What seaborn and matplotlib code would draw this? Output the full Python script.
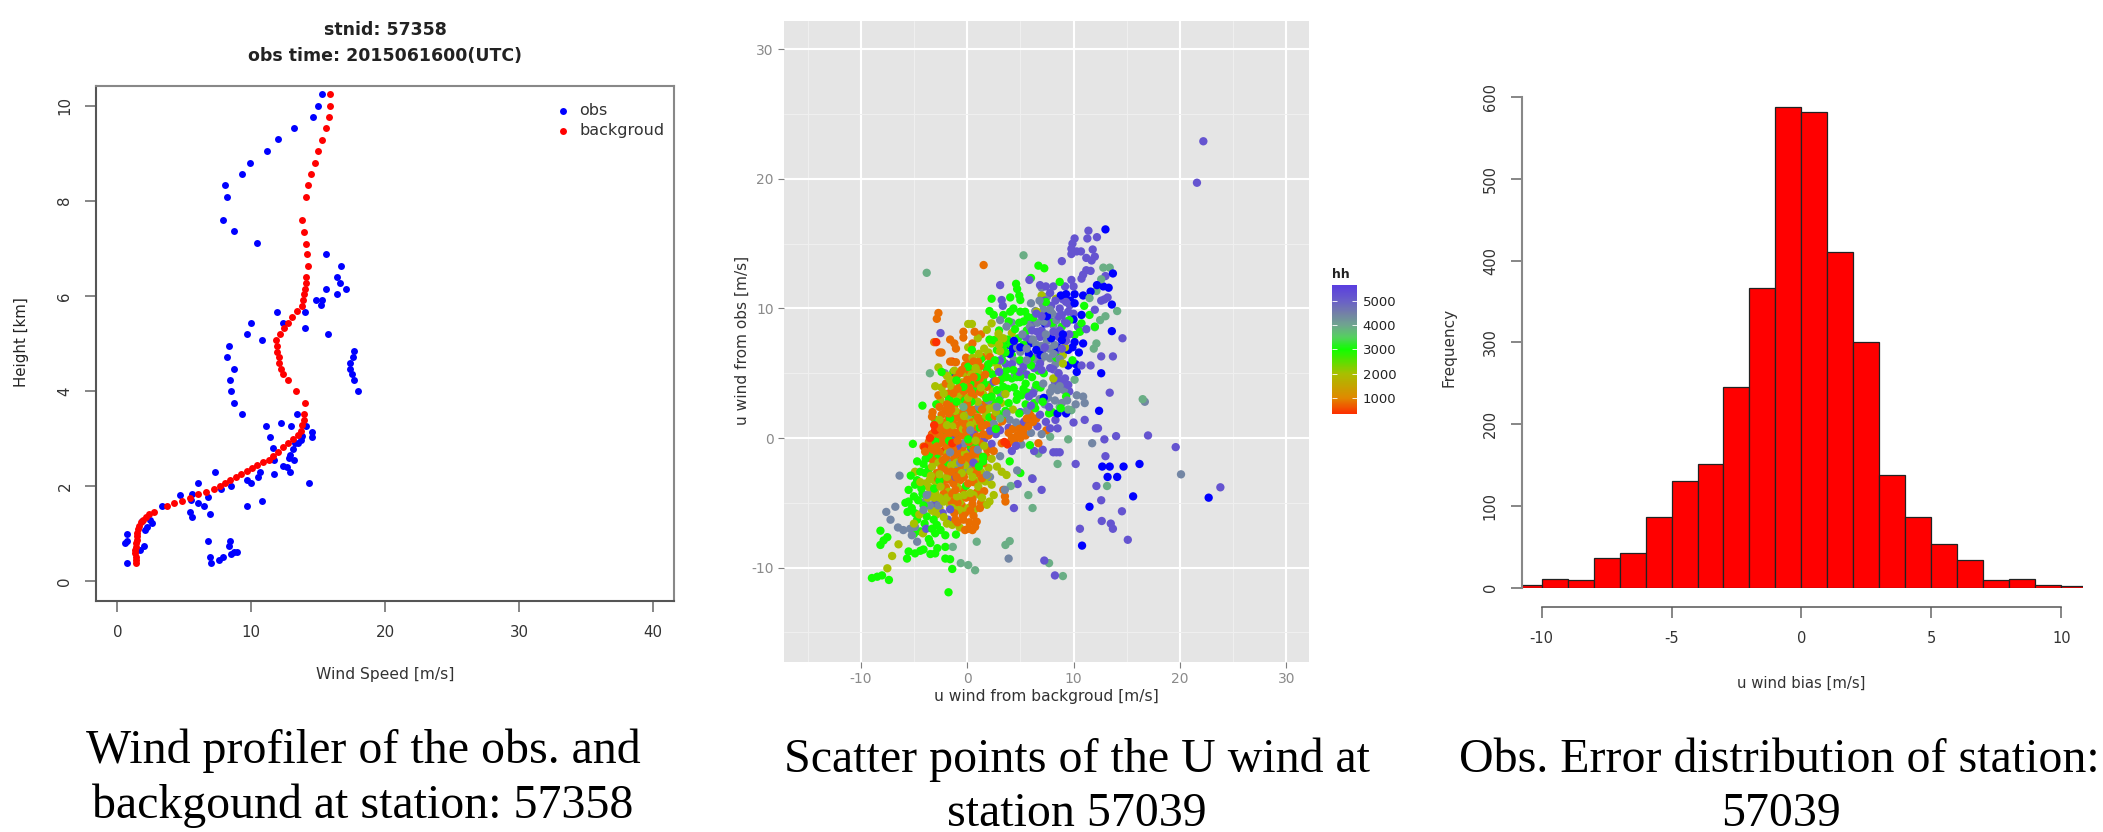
import numpy as np
import pandas as pd
from matplotlib import pyplot as plt
from matplotlib.colors import LinearSegmentedColormap, Normalize
import seaborn as sns

W, H = 2103, 832

# ---- wind profile (station 57358)
obs_speed = [15.3, 15.0, 14.6, 13.2, 12.0, 11.2, 9.9, 9.3, 8.0, 8.2, 7.9, 8.7, 10.4, 15.6, 16.7, 16.4, 16.6, 17.1,
             15.6, 16.4, 14.8, 15.3, 15.2, 11.9, 14.0, 12.4, 10.0, 14.0, 9.7, 15.7, 10.8, 8.3, 17.7, 8.2, 17.6, 17.4,
             8.7, 17.4, 17.5, 8.4, 17.7, 8.5, 18.0, 8.7, 9.3, 13.4, 11.1, 12.2, 13.0, 14.1, 14.5, 14.5, 11.4, 13.8,
             13.7, 13.5, 13.3, 13.1, 12.9, 12.8, 13.2, 11.6, 11.7, 12.4, 12.7, 12.9, 7.3, 11.7, 10.65, 10.5, 9.7, 10.0,
             14.3, 6.05, 8.5, 7.7, 4.7, 5.6, 6.8, 5.5, 6.05, 6.45, 9.7, 10.8, 3.3, 5.4, 6.9, 5.6, 2.6, 2.4, 2.2, 2.05,
             1.8, 0.7, 0.7, 0.6, 6.8, 8.4, 8.3, 1.95, 1.7, 8.9, 8.7, 8.5, 7.85, 7.6, 6.9, 7.0, 0.7]
obs_height = [10.25, 10.0, 9.75, 9.52, 9.29, 9.04, 8.8, 8.56, 8.32, 8.07, 7.6, 7.36, 7.11, 6.88, 6.63, 6.4, 6.28, 6.15,
              6.15, 6.03, 5.91, 5.91, 5.8, 5.67, 5.67, 5.44, 5.44, 5.32, 5.2, 5.2, 5.07, 4.95, 4.84, 4.72, 4.72, 4.6,
              4.47, 4.47, 4.35, 4.24, 4.24, 4.0, 4.0, 3.75, 3.51, 3.51, 3.27, 3.33, 3.27, 3.27, 3.15, 3.03, 3.03, 3.05,
              2.97, 2.92, 2.9, 2.78, 2.66, 2.59, 2.55, 2.8, 2.55, 2.43, 2.4, 2.31, 2.31, 2.25, 2.31, 2.19, 2.14, 2.07,
              2.07, 2.07, 2.0, 1.94, 1.82, 1.83, 1.77, 1.71, 1.64, 1.58, 1.59, 1.7, 1.59, 1.46, 1.41, 1.35, 1.22, 1.3,
              1.15, 1.09, 1.28, 0.99, 0.85, 0.8, 0.86, 0.86, 0.74, 0.74, 0.67, 0.62, 0.61, 0.57, 0.51, 0.45, 0.51, 0.38, 0.385]
bg_speed = [15.9, 15.85, 15.8, 15.55, 15.3, 15.0, 14.75, 14.45, 14.25, 14.1, 13.8, 13.9, 14.05, 14.15, 14.25, 14.1, 14.05,
            14.0, 13.9, 13.85, 13.75, 13.4, 13.05, 12.75, 12.45, 12.15, 11.85, 11.9, 11.95, 12.05, 12.1, 12.2, 12.35, 12.75,
            13.35, 14.0, 13.95, 13.9, 13.8, 13.7, 13.5, 13.1, 12.76, 12.4, 12.0, 11.6, 11.3, 10.9, 10.45, 10.05, 9.65, 9.2,
            8.83, 8.43, 8.03, 7.66, 7.2, 6.6, 6.0, 5.4, 4.8, 4.25, 3.68, 2.7, 2.39, 2.14, 1.94, 1.77, 1.64, 1.54, 1.49, 1.47,
            1.44, 1.42, 1.37, 1.34, 1.34, 1.37, 1.39, 1.39]
bg_height = [10.25, 10.0, 9.76, 9.52, 9.28, 9.05, 8.8, 8.57, 8.33, 8.08, 7.6, 7.35, 7.1, 6.87, 6.63, 6.39, 6.27, 6.15, 6.03,
             5.91, 5.79, 5.68, 5.56, 5.44, 5.32, 5.2, 5.08, 4.95, 4.83, 4.71, 4.6, 4.47, 4.35, 4.24, 4.0, 3.75, 3.52, 3.4, 3.29,
             3.17, 3.08, 2.99, 2.92, 2.82, 2.73, 2.64, 2.56, 2.5, 2.44, 2.38, 2.32, 2.26, 2.19, 2.13, 2.06, 2.0, 1.94, 1.885,
             1.83, 1.76, 1.70, 1.65, 1.58, 1.46, 1.415, 1.36, 1.30, 1.24, 1.17, 1.10, 1.02, 0.95, 0.88, 0.80, 0.73, 0.66, 0.59,
             0.52, 0.45, 0.38]

# ---- u wind scatter (station 57039), (background, obs) per hh level
hh_red = [(3.7, -0.4), (3.5, -0.3), (3.8, -0.5), (-3.5, 0.0), (-3.3, 0.3), (-2.5, -0.2), (-1.4, -0.4), (0.4, -0.2),
          (-3.1, 1.0), (-2.9, 7.4), (-1.4, 5.9), (-3.0, 0.6), (-4.0, -0.7), (-2.2, -1.0)]
hh_orange = [(1.55, 13.35), (-2.7, 9.65), (-2.85, 9.2), (-3.1, 7.4), (-2.6, 6.6), (-2.4, 6.6), (-1.6, 7.6), (-1.2, 7.3),
             (-1.05, 6.9), (-0.35, 8.2), (-0.35, 7.75), (0.7, 8.2), (1.3, 8.0), (0.5, 7.3), (-1.6, 5.9), (-1.05, 5.85),
             (-0.2, 5.6), (0.1, 5.7), (-0.5, 5.25), (-1.75, 3.2), (-1.45, 2.8), (-2.05, 2.15), (-1.75, 1.5), (-3.25, 2.0),
             (-3.3, 1.65), (-3.0, 0.6), (-3.3, 0.25), (-4.1, -0.65), (-3.95, -1.05), (-2.85, -0.65), (-2.4, 0.1), (-1.9, 0.6),
             (-1.3, 1.1), (-0.65, 1.9), (0.0, 2.65), (0.6, 3.2), (1.2, 3.55), (1.85, 3.95), (1.5, 6.25), (2.15, 6.25), (1.2, 5.5),
             (0.6, 4.7), (0.0, 4.5), (-0.65, 4.2), (-1.3, 3.45), (-2.5, -0.4), (-1.9, -0.65), (-1.3, -0.9), (-0.65, -1.2),
             (0.0, -1.45), (0.6, -0.9), (1.2, -0.4), (0.9, 0.1), (0.1, 0.35), (-0.65, 0.5), (-1.3, -0.4), (-1.9, 0.1), (-2.5, 0.75),
             (3.25, -0.4), (4.2, 0.0), (5.0, 0.0), (5.3, 0.5), (5.75, 0.9), (6.2, 1.25), (5.9, 2.15), (6.7, -0.4), (7.45, 0.6),
             (6.5, 1.5), (4.7, 0.2), (4.4, -0.3), (3.9, 0.4), (-2.85, -2.7), (-2.2, -3.25), (-1.9, -2.5), (-0.95, -2.5), (0.0, -2.5),
             (0.9, -2.7), (-0.65, -3.25), (0.1, -3.5), (-1.3, -3.5), (0.75, -2.2), (1.5, -1.95), (3.4, -4.0), (3.6, -4.9),
             (3.55, -4.5), (-0.35, -6.3), (0.1, -7.0), (0.75, -6.85), (-0.2, -5.8), (-1.1, -6.3), (0.9, -6.45), (1.2, -5.4),
             (-2.7, 3.3), (-2.0, 4.2), (-1.1, 4.6), (-0.3, 3.6), (0.4, 2.0), (1.0, 1.6), (1.6, 2.6), (2.2, 3.2), (2.7, 4.4), (-0.9, 2.9),
             (-1.5, 2.2), (-2.3, 1.2), (-1.1, 0.4), (-0.2, 1.1), (0.6, 0.8), (1.4, 0.9), (2.0, 0.2), (-2.9, -1.3), (-2.3, -1.7),
             (-1.6, -1.8), (-0.9, -0.2), (-0.4, -0.7), (0.3, -1.7), (1.0, -1.2), (1.9, -0.9), (-1.7, 1.9), (-1.0, 1.6), (-0.3, 2.2),
             (-2.6, 2.4), (0.2, 3.9), (0.9, 4.2), (1.7, 4.9), (-3.1, -1.8), (-2.4, -2.3), (-1.4, -3.0), (-0.4, -4.0), (0.5, -4.7),
             (-0.9, -5.0), (0.3, -5.6), (-1.4, -4.3), (-2.0, -3.8), (-3.3, -0.8), (2.6, 1.7), (2.9, 0.8), (3.3, 1.3)]
hh_orange_core = [(-3.6, -0.3), (-3.2, -0.9), (-2.7, 0.3), (-2.1, -0.2), (-1.6, 0.4), (-1.0, -0.1), (-0.4, 0.2), (0.2, -0.3), (0.7, 0.5), (1.5, 0.3),
                  (-3.4, -1.6), (-2.6, -1.1), (-2.0, -1.5), (-1.2, -1.4), (-0.5, -1.7), (0.5, -1.3), (-2.9, 0.9), (-2.2, 0.7), (-1.5, 1.3), (-0.8, 1.0),
                  (-0.1, 0.6), (0.5, 1.2), (1.2, 1.3), (1.8, 1.0), (-2.4, 1.8), (-1.9, 2.6), (-1.2, 2.5), (-0.5, 1.5), (0.2, 2.3), (0.8, 2.2), (1.4, 2.2),
                  (-2.0, 3.4), (-1.5, 3.6), (-0.9, 3.8), (-0.2, 3.0), (0.4, 3.5), (1.2, 4.6), (0.2, 5.2), (-0.7, 5.0), (1.0, 5.9), (-0.1, 6.2), (0.6, 5.9),
                  (1.9, 5.6), (-1.5, -2.6), (-0.7, -2.2), (0.2, -2.0), (1.0, -2.1), (1.8, -1.4), (2.5, -1.0), (-2.8, -3.1), (-1.8, -3.2), (-1.0, -3.0),
                  (-0.3, -3.0), (0.6, -3.4), (1.4, -3.1), (-2.2, -4.3), (-1.1, -4.0), (-0.1, -4.6), (0.9, -4.2), (1.6, -4.1), (-1.5, -4.9), (-0.5, -5.2),
                  (0.5, -5.1), (1.3, -5.0), (-1.2, -5.8), (-0.4, -6.0), (0.6, -6.0), (-0.9, -6.5), (0.2, -6.5), (0.5, -7.1), (-0.2, -7.1), (5.2, 0.9),
                  (4.9, 0.7), (5.5, 0.2), (6.0, 1.7), (5.6, 1.5), (4.3, 0.7)]
hh_olive = [(-6.45, -8.2), (-7.05, -9.1), (-7.5, -10.05), (-4.15, -7.35), (7.0, 11.0), (8.35, 10.75), (6.55, 9.75), (9.0, 6.4),
            (9.0, 5.75), (0.45, 8.8), (0.1, 8.8), (2.3, 8.85), (1.85, 8.35), (2.95, 8.05), (-2.7, 5.45), (-3.0, 4.0), (-2.2, 3.45),
            (2.45, 5.85), (-0.65, -4.9), (-0.95, -4.5), (-1.75, -4.15), (-2.5, -3.75), (-3.0, -3.35), (0.1, -5.4), (-0.8, -5.55),
            (1.85, -5.15), (0.3, -4.25), (1.05, -3.75), (1.7, -3.35), (2.3, -3.6), (2.8, -2.2), (3.25, -2.6), (3.7, -2.85),
            (-1.6, -5.2), (-2.2, -4.9), (-3.1, -4.6), (-3.6, -3.8), (-2.9, -5.9), (-1.9, -6.6), (-0.7, -6.9), (-4.5, -5.9), (-4.0, -5.0),
            (-3.4, -2.9), (-2.7, -1.9), (-1.9, -1.2), (-1.0, -1.9), (-0.2, -1.2), (0.5, -3.0), (1.3, -2.6), (2.0, -2.3), (-1.5, -2.1),
            (-0.9, -3.8), (-2.4, 3.9), (-1.5, 4.0), (-0.8, 3.3), (0.1, 3.1), (1.0, 2.8), (1.8, 1.9), (2.6, 2.4), (-0.4, 0.7), (0.8, 5.4),
            (1.6, 6.9), (2.3, 7.3), (3.1, 6.7), (0.5, 6.2), (-0.3, 5.0), (-1.2, 5.2), (-1.9, 4.8), (-2.6, 1.4), (-1.4, 0.9), (0.2, 1.4),
            (3.6, 3.4), (4.3, 2.2), (3.0, 3.6), (1.5, 3.4), (2.2, 1.1), (0.8, -0.2), (-0.2, -2.1), (1.2, -4.4), (2.5, -4.4), (0.9, -1.6),
            (-5.0, -6.6), (-4.4, -3.4), (-4.9, -2.6), (8.1, 4.6), (9.2, 7.0), (4.2, 8.1), (3.4, 7.7)]
hh_olive_core = [(-3.3, -2.2), (-2.6, -2.8), (-1.9, -3.0), (-1.2, -2.4), (-0.5, -2.7), (0.3, -2.6), (1.1, -3.3), (1.9, -2.9), (-3.0, -4.2), (-2.6, -4.6),
                 (-1.9, -4.6), (-1.2, -4.9), (-0.3, -4.4), (0.6, -4.4), (1.4, -4.6), (2.1, -4.9), (-2.6, -5.4), (-1.4, -5.4), (-0.6, -5.6), (0.7, -5.5),
                 (-2.2, -6.1), (-1.4, -6.7), (-3.5, -3.2), (-3.9, -3.5), (-3.3, -5.6), (-3.7, -4.6), (-2.5, 2.9), (-1.9, 1.0), (-1.1, 2.1), (-0.4, 2.6),
                 (0.3, 1.0), (0.9, 1.3), (1.5, 1.5), (2.1, 2.3), (2.4, 3.6), (1.3, 3.9), (0.4, 4.9), (-0.5, 4.3), (-1.6, 4.5), (1.1, 5.0), (2.1, 5.1),
                 (2.9, 5.4), (3.3, 4.6), (2.7, 2.0), (3.2, 2.7), (-1.2, 3.2), (-0.3, 1.7), (0.6, 0.2), (1.6, -0.6), (2.3, -1.6), (0.1, 7.0), (1.1, 6.5),
                 (2.0, 6.6), (2.7, 7.6), (3.0, 7.2), (1.0, 7.7)]
hh_green = [(6.7, 13.3), (7.25, 13.1), (4.6, 11.9), (4.7, 11.5), (6.0, 12.35), (8.7, 12.05), (2.3, 10.75), (4.05, 10.85),
            (4.9, 11.0), (5.0, 10.65), (4.35, 10.0), (4.05, 9.75), (2.1, 9.8), (2.5, 9.5), (5.0, 9.75), (5.45, 9.75), (5.7, 9.35),
            (11.0, 10.2), (11.5, 9.5), (10.75, 8.85), (10.1, 7.95), (12.0, 8.6), (2.5, 7.55), (2.8, 6.8), (0.45, 6.8), (3.7, 5.25),
            (4.35, 5.25), (4.65, 4.7), (5.3, 5.0), (3.7, 4.7), (3.1, 4.45), (2.15, 4.1), (2.8, 3.7), (3.4, 3.95), (2.3, 3.2),
            (1.85, 3.05), (4.65, 2.95), (5.1, 3.3), (6.05, 3.45), (7.7, 1.9), (5.9, -0.55), (-1.3, 5.1), (-1.0, 4.45), (-0.35, 3.95),
            (0.3, 4.2), (0.9, 4.7), (1.85, 5.25), (2.6, 6.0), (-1.1, 1.75), (-3.0, 1.4), (-4.2, 2.5), (-5.1, -0.45), (-3.5, -0.4),
            (-3.6, -1.3), (-4.1, -2.0), (-4.7, -1.8), (-3.95, -2.7), (-4.7, -3.25), (-5.5, -4.0), (-5.0, -4.5), (-5.5, -4.9), (-5.2, -5.4),
            (-4.7, -6.3), (-3.15, -6.3), (-3.8, -6.05), (-2.85, -6.7), (-1.05, -7.45), (-2.05, -7.5), (-3.0, -7.35), (-3.45, -8.1),
            (-5.5, -8.75), (-4.4, -8.7), (-3.45, -8.95), (-3.0, -8.9), (-2.05, -9.3), (-1.6, -9.35), (-2.8, -8.5), (-2.05, -8.4),
            (-1.4, -10.1), (-1.75, -11.9), (-8.15, -8.25), (-7.85, -7.9), (-7.5, -7.65), (-8.15, -7.15), (-7.35, -10.95), (-8.95, -10.8),
            (-8.45, -10.7), (-8.0, -10.6), (-5.65, -9.3), (1.5, -1.8), (4.0, -1.8), (5.0, -2.7), (1.5, -1.45), (0.3, -0.6), (-0.8, 0.2),
            (-1.7, -0.2), (-2.8, -1.6), (-3.1, -3.9), (-4.2, -4.3), (-3.7, -5.2), (-4.4, -7.2), (-5.0, -7.4), (3.0, 2.9), (3.6, 2.1),
            (4.4, 3.9), (4.9, 1.9), (5.5, 2.6), (6.3, 2.7), (6.9, 3.9), (5.5, 4.2), (6.1, 4.7), (5.0, 6.0), (4.2, 6.4), (3.3, 6.0), (3.8, 7.6),
            (4.5, 8.4), (3.0, 8.3), (5.3, 7.2), (6.0, 5.6), (-0.2, 2.9), (0.6, 1.6), (1.2, 0.8), (2.1, 1.6), (2.7, 0.7), (1.6, 4.2), (2.4, 4.9),
            (7.4, 10.5), (8.0, 8.9), (8.9, 8.6), (9.6, 9.1), (10.6, 8.2), (9.9, 6.0), (8.4, 6.2), (7.2, 5.0)]
hh_green_core = [(-5.3, -2.9), (-4.9, -3.6), (-4.4, -2.6), (-4.3, -3.9), (-3.6, -2.4), (-4.6, -4.8), (-4.1, -5.2), (-5.8, -5.0), (-5.6, -5.7), (-4.9, -5.8),
                 (-3.3, -7.0), (-2.5, -7.1), (-4.0, -6.6), (-3.6, -7.8), (-4.1, -8.6), (-4.9, -8.9), (-2.6, -3.3), (-1.4, -3.0), (-0.1, -3.7), (-1.9, -2.1),
                 (-1.0, -1.5), (0.1, -0.1), (0.7, -0.6), (1.1, -2.2), (-3.0, -0.2), (-2.3, 0.4), (-1.6, 1.5), (-1.0, 2.8), (-0.5, 3.5), (0.4, 2.8), (1.2, 2.2),
                 (1.8, 3.1), (1.5, 1.1), (2.5, 2.7), (2.9, 1.9), (3.4, 1.7), (3.9, 2.7), (3.8, 3.8), (4.2, 4.6), (4.7, 3.4), (5.0, 4.7), (5.7, 3.5), (6.5, 4.1),
                 (6.4, 2.3), (7.1, 2.8), (3.4, 5.0), (2.9, 5.9), (2.0, 5.7), (1.5, 4.6), (0.7, 3.7), (3.6, 6.6), (4.1, 7.2), (2.1, 7.6), (3.4, 7.1), (4.8, 7.7),
                 (5.6, 8.3), (4.9, 8.9), (5.3, 9.0), (3.9, 9.0), (3.4, 9.5), (6.2, 9.3), (6.0, 6.2), (6.7, 5.2), (5.3, 3.8), (8.0, 2.0), (8.8, 2.3), (9.3, 3.2),
                 (-0.9, 4.9), (-1.7, 3.0), (-2.9, 2.6), (-2.4, 5.1), (0.1, 5.5), (1.3, 6.1), (-3.9, -1.6)]
hh_teal = [(12.8, 13.15), (13.4, 13.15), (12.6, 12.25), (12.15, 11.35), (11.5, 10.8), (14.1, 9.8), (13.0, 9.4), (12.5, 9.1), (12.0, 8.55),
           (12.15, 7.3), (11.9, 6.9), (10.1, 4.5), (16.5, 3.0), (9.5, 2.2), (9.8, 2.15), (8.7, 2.4), (7.8, 0.1), (9.5, -0.1), (8.5, -2.0),
           (6.7, -1.2), (13.15, -3.7), (6.15, -5.4), (5.75, -4.4), (4.1, -3.7), (-3.8, 12.75), (5.3, 14.1), (-3.5, 5.0), (0.9, -8.0), (0.75, -10.2),
           (0.1, -9.8), (-0.6, -9.65), (-1.35, -8.4), (3.6, -8.25), (4.0, -7.95), (7.7, -9.65), (9.0, -10.65), (-0.35, 2.4), (0.1, 1.8), (3.1, 1.5)]
hh_gray = [(16.7, 2.8), (10.3, 3.3), (10.9, 3.2), (11.05, 2.7), (8.25, 2.9), (8.5, 3.7), (7.8, 3.55), (7.15, 4.2), (8.55, 5.0), (7.8, 6.15),
           (8.1, 6.5), (5.0, 6.65), (5.6, 6.9), (6.0, 10.4), (3.1, 9.1), (3.7, 8.6), (11.75, -0.4), (6.1, -3.1), (3.55, -4.0), (4.7, -2.5), (1.85, -2.85),
           (2.15, -3.0), (3.1, -1.4), (-0.65, -1.9), (-1.9, -1.8), (-3.5, -1.45), (-6.35, -2.9), (-6.75, -5.3), (-7.6, -5.7), (-7.2, -6.3), (-6.5, -6.9),
           (-6.0, -7.1), (-5.35, -7.0), (-4.9, -6.85), (-5.2, -7.5), (-4.7, -8.0), (-3.8, -4.4), (-3.95, -4.9), (-3.0, -5.4), (-2.7, -5.2), (-3.5, -5.2),
           (-4.1, -5.55), (3.9, -9.3), (-2.1, 5.0), (20.1, -2.8), (2.5, 1.1), (2.8, 2.4), (3.7, 1.9), (7.0, 11.6), (6.8, 10.6), (7.2, 9.9), (7.6, 9.3),
           (8.0, 9.6), (6.6, 8.9), (7.4, 8.0), (8.2, 7.2), (6.5, 7.2), (5.9, 8.6), (6.9, 6.0), (4.2, 8.9), (7.3, 2.6), (6.4, 3.8)]
hh_gray_core = [(6.2, 7.6), (7.0, 7.1), (7.7, 6.9), (7.3, 6.3), (6.2, 6.0), (5.6, 6.0), (4.7, 7.0), (4.4, 6.0), (5.2, 8.0), (5.7, 9.1), (6.4, 9.8), (7.1, 10.3),
                (7.5, 10.9), (7.8, 9.9), (8.4, 9.1), (8.1, 8.7), (7.2, 9.0), (7.5, 7.5), (8.3, 5.7), (8.7, 6.1), (9.1, 3.7), (8.9, 2.7), (4.5, 4.9), (3.2, 3.3),
                (2.0, 2.9), (1.1, 2.4), (0.3, 0.6), (-0.3, -0.4), (-0.9, -1.0), (-1.6, -1.1), (-2.6, -3.6), (-3.3, -4.2), (-1.1, -2.0), (0.1, -2.4), (1.0, -0.9),
                (5.6, 2.1), (6.8, 3.0), (7.6, 3.1), (8.0, 3.9), (8.7, 4.0), (9.4, 2.9), (10.2, 2.6), (6.0, 0.4), (7.0, 0.3), (5.1, -0.5), (4.0, 1.4), (4.6, 1.2)]
hh_purple = [(22.2, 22.9), (21.6, 19.7), (11.4, 16.0), (11.3, 15.4), (12.2, 15.5), (10.1, 15.4), (9.9, 15.0), (9.8, 14.6), (10.3, 14.4), (9.8, 14.2),
             (10.7, 14.4), (11.8, 14.55), (12.0, 14.0), (11.7, 13.7), (11.2, 13.9), (8.9, 13.65), (11.2, 12.95), (10.9, 12.6), (10.75, 12.3), (11.6, 12.9),
             (13.0, 12.5), (9.8, 12.2), (10.0, 11.7), (9.2, 11.7), (8.1, 11.7), (7.8, 11.2), (6.85, 11.8), (7.4, 11.7), (3.1, 11.8), (5.85, 12.2), (3.25, 10.65),
             (3.35, 10.2), (12.0, 9.9), (12.9, 10.7), (13.2, 10.85), (12.6, 10.6), (8.7, 10.0), (9.5, 9.75), (9.65, 10.25), (10.0, 9.6), (9.35, 8.85), (8.7, 8.3),
             (8.1, 8.2), (8.6, 7.8), (6.2, 8.85), (7.5, 8.85), (7.0, 8.3), (6.1, 8.3), (5.5, 7.8), (6.85, 7.8), (3.1, 6.0), (3.6, 5.75), (5.0, 5.9), (5.3, 5.5),
             (6.5, 6.3), (6.85, 5.75), (7.0, 5.25), (7.8, 5.4), (11.6, 5.6), (10.75, 5.6), (12.6, 6.3), (13.7, 6.3), (13.4, 3.5), (9.2, 4.6), (9.5, 4.1), (8.25, 4.35),
             (8.55, 4.6), (2.5, 4.35), (5.8, 3.2), (6.2, 3.45), (11.05, 1.4), (12.1, 0.75), (12.3, 0.75), (14.0, 0.15), (17.0, 0.2), (19.6, -0.7), (12.9, -0.1), (13.0, -1.4),
             (10.2, -2.0), (8.1, -1.1), (8.4, -1.1), (8.7, -1.1), (6.3, -1.0), (7.1, -0.9), (4.2, -1.0), (5.35, 1.25), (6.85, 1.8), (7.4, 1.25), (8.5, 0.75), (7.8, 0.75),
             (5.9, 1.25), (3.9, 0.8), (3.1, 0.6), (2.3, -0.45), (0.9, 0.9), (0.65, 0.25), (0.3, -1.0), (2.15, 0.55), (-1.3, 0.0), (-1.2, -2.85), (-1.1, -3.0), (-2.0, -4.7),
             (-1.6, -5.5), (-2.3, -5.8), (-1.8, -6.3), (-3.85, -7.0), (4.4, -5.4), (4.75, -3.55), (6.15, -3.15), (7.0, -4.0), (12.15, -3.7), (12.6, -4.8), (14.55, -5.65),
             (12.65, -6.4), (13.5, -6.6), (13.7, -7.0), (10.6, -7.0), (15.1, -7.85), (23.8, -3.8), (7.25, -9.45), (8.25, -10.6), (14.6, 7.7), (-2.5, 8.1)]
hh_purple_core = [(6.5, 9.6), (7.3, 10.6), (7.9, 10.2), (8.3, 10.6), (8.9, 9.5), (9.2, 9.0), (8.6, 9.4), (7.9, 9.0), (7.0, 9.4), (6.6, 8.2), (6.0, 7.6), (7.3, 7.0),
                  (8.3, 6.6), (8.9, 6.9), (9.3, 7.5), (8.1, 5.3), (8.6, 5.0), (9.0, 4.2), (7.1, 6.8), (6.3, 5.4), (5.6, 4.9), (4.9, 5.1), (4.2, 5.7), (3.4, 6.5), (3.0, 5.1),
                  (2.7, 0.3), (1.6, -0.1), (-0.9, -0.6), (-0.4, -2.2), (0.6, -1.9), (9.6, 8.0), (10.4, 8.6), (9.3, 10.5), (9.0, 10.7), (11.2, 8.4),
                  (6.0, 2.5), (6.6, 0.9), (7.7, 2.4), (8.3, 1.4), (9.6, 3.6), (10.0, 1.2), (5.0, 2.0), (4.6, -0.6), (-1.7, -2.9), (-3.0, -5.0)]
hh_blue = [(13.0, 16.1), (13.7, 12.7), (12.2, 11.8), (12.8, 11.7), (13.3, 11.6), (13.6, 10.3), (9.3, 11.1), (10.1, 11.1), (10.9, 11.0), (11.6, 11.3), (10.75, 9.5),
           (10.1, 10.4), (10.0, 9.15), (7.5, 9.4), (7.3, 8.85), (3.9, 7.2), (4.4, 7.5), (4.0, 6.5), (5.8, 6.5), (6.5, 6.8), (5.9, 7.3), (8.9, 7.55), (9.5, 6.8),
           (10.1, 7.4), (10.9, 7.3), (10.5, 6.6), (9.5, 5.6), (10.3, 5.1), (10.2, 5.7), (13.6, 8.25), (12.6, 5.0), (12.4, 2.1), (8.5, 1.9), (9.3, 1.9), (7.2, 3.1),
           (-1.1, 4.7), (4.7, 0.1), (12.7, -2.2), (13.4, -2.2), (13.2, -3.0), (14.1, -3.0), (14.7, -2.2), (16.2, -2.0), (11.5, -5.3), (15.6, -4.5), (22.7, -4.6), (10.8, -8.3),
           (7.9, 7.7), (8.5, 7.0), (9.9, 7.0), (9.0, 8.0), (4.3, 6.9), (5.0, 7.0), (6.9, 6.4), (9.7, 10.6), (8.8, 11.0)]

hh_levels = [350, 800, 800, 2000, 2000, 3000, 3000, 3900, 4400, 4400, 5200, 5200, 6000]
hh_groups = [hh_red, hh_orange, hh_orange_core, hh_olive, hh_olive_core, hh_green, hh_green_core, hh_teal,
             hh_gray, hh_gray_core, hh_purple, hh_purple_core, hh_blue]
hh_ticks = [1000, 2000, 3000, 4000, 5000]

# ---- u wind bias histogram (station 57039)
bias_edges = list(range(-11, 12))
bias_freq = [4, 11, 9, 36, 43, 87, 131, 151, 246, 367, 588, 582, 410, 300, 138, 86, 54, 34, 10, 11, 3, 2]

captions = [("Wind profiler of the obs. and", 363, 751), ("backgound at station: 57358", 363, 806),
            ("Scatter points of the U wind at", 1077, 760), ("station 57039", 1077, 814),
            ("Obs. Error distribution of station:", 1779, 760), ("57039", 1781, 814)]


def pixel_axes(fig, left, top, right, bottom):
    return fig.add_axes([left / W, 1 - bottom / H, (right - left) / W, (bottom - top) / H])


def px_text(fig, x, y, s, **kw):
    kw.setdefault("ha", "center")
    kw.setdefault("va", "center")
    fig.text(x / W, 1 - y / H, s, **kw)


def r_ticks(ax, labelsize):
    # base R look: long outward ticks, y labels turned along the axis
    ax.tick_params(bottom=True, left=True, length=8, width=1.1, color="#666666", labelcolor="#333333",
                   labelsize=labelsize, pad=9)
    ax.tick_params(axis="y", labelrotation=90)
    for lab in ax.get_yticklabels():
        lab.set_va("center")


def draw_profile(fig):
    ax = pixel_axes(fig, 96, 86, 674, 601)
    sns.scatterplot(x=obs_speed, y=obs_height, color="#0000ff", s=25, linewidth=0, ax=ax, label="obs")
    sns.scatterplot(x=bg_speed, y=bg_height, color="#ff0000", s=25, linewidth=0, ax=ax, label="backgroud")
    ax.set_xlim(-1.6, 41.57)
    ax.set_ylim(-0.41, 10.41)
    ax.set_xticks([0, 10, 20, 30, 40])
    ax.set_yticks([0, 2, 4, 6, 8, 10])
    r_ticks(ax, 10.8)
    for side, spine in ax.spines.items():
        spine.set_visible(True)
        spine.set_color("#555555" if side in ("left", "bottom") else "#888888")
        spine.set_linewidth(1.5)
    ax.legend(loc="upper right", frameon=False, fontsize=11.5, bbox_to_anchor=(1.0, 0.985), borderaxespad=0.2,
              handletextpad=0.0, labelspacing=0.3, labelcolor="#333333")
    px_text(fig, 385, 675, "Wind Speed [m/s]", fontsize=11.2, color="#333333")
    px_text(fig, 22, 342, "Height [km]", rotation=90, fontsize=10.8, color="#222222")
    px_text(fig, 385, 30, "stnid: 57358", fontsize=12.5, fontweight="bold", color="#222222")
    px_text(fig, 385, 56, "obs time: 2015061600(UTC)", fontsize=12.5, fontweight="bold", color="#222222")


def draw_scatter(fig):
    rows = []
    for level, pts in zip(hh_levels, hh_groups):
        rows += [(u, v, level) for u, v in pts]
    df = pd.DataFrame(rows, columns=["background", "obs", "hh"])
    # mixed drawing order, marks of all levels overlap in the cloud
    df = df.iloc[np.argsort((np.arange(len(df)) * 0.618034) % 1)]

    stops = [(300, "#ff2a00"), (1000, "#e08a00"), (2000, "#a8c000"), (3000, "#10ff00"), (3500, "#55d060"),
             (4000, "#6fa58f"), (4500, "#7480a8"), (5000, "#6a60c8"), (5640, "#5a3ee0"), (6000, "#0000ff")]
    cmap = LinearSegmentedColormap.from_list("hh", [((v - 300) / 5700, c) for v, c in stops])
    norm = Normalize(300, 6000)

    ax = pixel_axes(fig, 783.6, 21, 1309, 662)
    ax.set_facecolor("#e5e5e5")
    ax.set_axisbelow(True)
    ax.grid(which="major", color="white", linewidth=1.5)
    ax.set_xticks([-15, -5, 5, 15, 25], minor=True)
    ax.set_yticks([-15, -5, 5, 15, 25], minor=True)
    ax.grid(which="minor", color="#f0f0f0", linewidth=0.7)
    sns.scatterplot(data=df, x="background", y="obs", hue="hh", palette=cmap, hue_norm=norm, s=36, linewidth=0,
                    legend=False, ax=ax)
    ax.set_xlim(-17.25, 32.13)
    ax.set_ylim(-17.28, 32.18)
    ax.set_xticks([-10, 0, 10, 20, 30])
    ax.set_yticks([-10, 0, 10, 20, 30])
    ax.tick_params(which="major", bottom=True, left=True, length=4, width=0.8, color="#7f7f7f", labelcolor="#8a8a8a",
                   labelsize=10, pad=3)
    ax.tick_params(which="minor", length=0)
    for spine in ax.spines.values():
        spine.set_visible(False)
    ax.set_xlabel("")
    ax.set_ylabel("")
    px_text(fig, 1046, 696, "u wind from backgroud [m/s]", fontsize=11.2, color="#333333")
    px_text(fig, 742, 340, "u wind from obs [m/s]", rotation=90, fontsize=11.1, color="#333333")

    # hh colour bar
    cax = pixel_axes(fig, 1332, 285, 1357, 414)
    grad = np.linspace(347, 5640, 256).reshape(-1, 1)
    cax.imshow(grad, origin="lower", aspect="auto", extent=[0, 1, 347, 5640], cmap=cmap, norm=norm)
    cax.hlines(hh_ticks, 0, 0.2, color="white", linewidth=0.6)
    cax.hlines(hh_ticks, 0.8, 1, color="white", linewidth=0.6)
    cax.set_xticks([])
    cax.yaxis.tick_right()
    cax.set_yticks(hh_ticks)
    cax.tick_params(length=0, labelsize=9.5, labelcolor="#222222", pad=4)
    for spine in cax.spines.values():
        spine.set_visible(False)
    px_text(fig, 1341, 274, "hh", fontsize=9, fontweight="bold", color="#222222")


def draw_hist(fig):
    ax = pixel_axes(fig, 1521.5, 87.2, 2083.3, 587.8)
    centres = [e + 0.5 for e in bias_edges[:-1]]
    sns.histplot(x=centres, weights=bias_freq, bins=bias_edges, color="#ff0000", edgecolor="#222222", linewidth=0.9,
                 alpha=1, ax=ax)
    ax.set_xlim(-10.77, 10.84)
    ax.set_ylim(0, 612)
    ax.set_xticks([-10, -5, 0, 5, 10])
    ax.set_yticks([0, 100, 200, 300, 400, 500, 600])
    r_ticks(ax, 10.5)
    ax.spines["top"].set_visible(False)
    ax.spines["right"].set_visible(False)
    ax.spines["left"].set_bounds(0, 600)
    ax.spines["left"].set_color("#888888")
    ax.spines["left"].set_linewidth(1.5)
    ax.spines["bottom"].set_position(("outward", 14))
    ax.spines["bottom"].set_bounds(-10, 10)
    ax.spines["bottom"].set_color("#555555")
    ax.spines["bottom"].set_linewidth(1.1)
    ax.set_xlabel("")
    ax.set_ylabel("")
    px_text(fig, 1801, 683, "u wind bias [m/s]", fontsize=10.7, color="#333333")
    px_text(fig, 1449, 347, "Frequency", rotation=90, fontsize=11, color="#333333")


def main():
    sns.set_theme(style="white")
    plt.rcParams["font.family"] = ["DejaVu Sans"]
    plt.rcParams["axes.unicode_minus"] = False
    fig = plt.figure(figsize=(W / 100, H / 100), dpi=100, facecolor="white")
    draw_profile(fig)
    draw_scatter(fig)
    draw_hist(fig)
    for text, x, y in captions:
        px_text(fig, x, y, text, family="Liberation Serif", fontsize=34.5, color="black")
    fig.savefig("out.png", dpi=100)


if __name__ == '__main__':
    main()
